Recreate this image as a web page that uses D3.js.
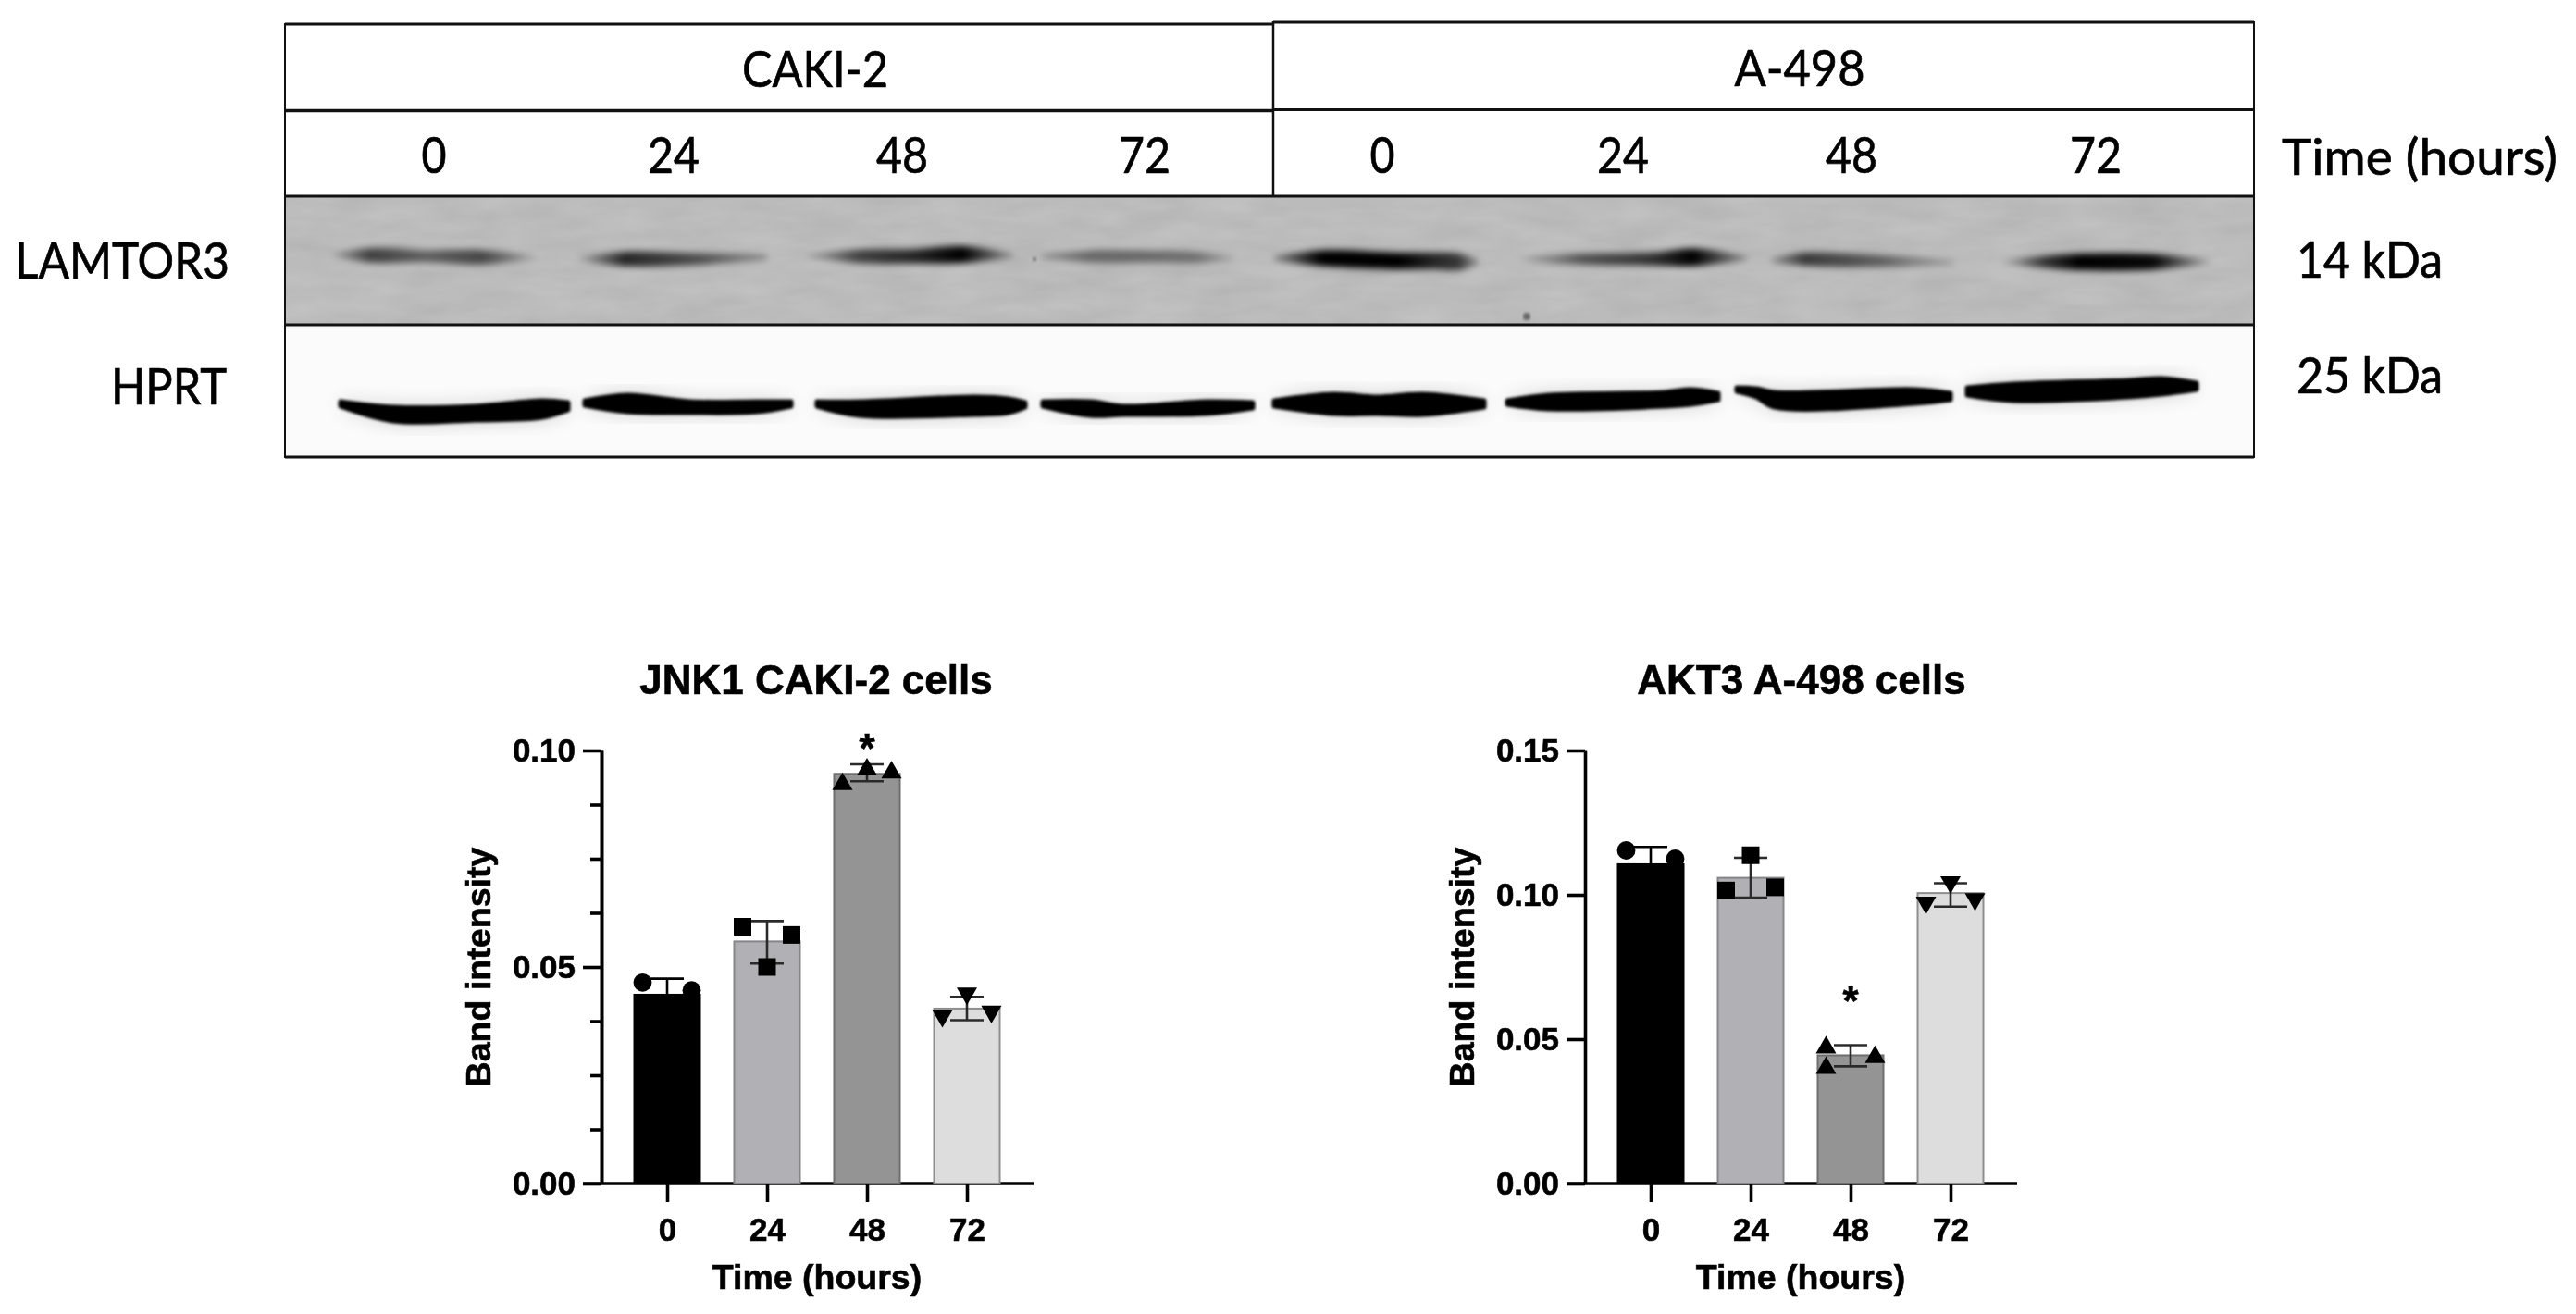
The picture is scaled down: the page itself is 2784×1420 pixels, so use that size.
<!DOCTYPE html>
<html>
<head>
<meta charset="utf-8">
<script src="https://cdnjs.cloudflare.com/ajax/libs/d3/7.8.5/d3.min.js"></script>
<style>
  html, body { margin: 0; background: #fff; }
  svg { display: block; }
  .blot-text { font-family: Lato, "Open Sans", sans-serif; fill: #000; stroke: #000; stroke-width: 0.7px; }
  .chart text { font-family: "Liberation Sans", Arial, sans-serif; font-weight: bold; fill: #000; stroke: #000; stroke-width: 0.6px; }
</style>
</head>
<body>
<svg width="2784" height="1420"></svg>
<script>
// bar charts
var timeLabels = ["0", "24", "48", "72"];

var jnkMeans = [0.0436, 0.0559, 0.0946, 0.0404];
var jnkUpper = [0.0473, 0.0606, 0.0968, 0.0431];
var jnkLower = [0.0400, 0.0508, 0.0929, 0.0377];
var jnkPoints = [[0.0464, 0.0446, 0.0400], [0.0593, 0.0574, 0.0500], [0.0922, 0.0956, 0.0949], [0.0387, 0.0439, 0.0397]];
var jnkSides = [[-1, 1, 0], [-1, 1, 0], [-1, 0, 1], [-1, 0, 1]];
var jnkStar = 0.1021;

var aktMeans = [0.1106, 0.1059, 0.0444, 0.1006];
var aktUpper = [0.1166, 0.1128, 0.0479, 0.1040];
var aktLower = [0.1046, 0.0990, 0.0406, 0.0959];
var aktPoints = [[0.1154, 0.1125, 0.1040], [0.1015, 0.1137, 0.1026], [0.0471, 0.0400, 0.0438], [0.0973, 0.1044, 0.0985]];
var aktSides = [[-1, 1, 0], [-1, 0, 1], [-1, -1, 1], [-1, 0, 1]];
var aktStar = 0.0657;

var barFills = ["#000000", "#b1b0b4", "#949494", "#dddddd"];
var barEdges = ["#000000", "#85858a", "#6e6e6e", "#8e8e8e"];

// blot table text
var cellLines = ["CAKI-2", "A-498"];
var laneLabels = ["0", "24", "48", "72", "0", "24", "48", "72"];
var proteinLabels = ["LAMTOR3", "HPRT"];
var sizeLabels = ["14 kDa", "25 kDa"];

// LAMTOR3 bands: [lane position, row position, thickness, darkness]
var lamtorBands = [
  [[51, 64, 3, 0.1], [92, 64, 13, 0.65], [152, 65, 11, 0.5], [213, 66, 13, 0.62], [271, 66, 3, 0.1]],
  [[317, 68, 3, 0.1], [367, 68, 13, 0.8], [440, 68, 11, 0.6], [521, 66, 5, 0.25]],
  [[564, 65, 3, 0.1], [620, 65, 12, 0.65], [680, 65, 13, 0.8], [732, 63, 15, 1], [787, 64, 4, 0.2]],
  [[818, 65, 4, 0.2], [870, 65, 11, 0.45], [930, 65, 11, 0.45], [985, 66, 10, 0.4], [1025, 67, 3, 0.1]],
  [[1069, 67, 4, 0.3], [1120, 67, 14, 1], [1205, 70, 15, 1], [1241, 70, 15, 0.8], [1269, 71, 15, 0.7], [1290, 71, 4, 0.2]],
  [[1337, 68, 3, 0.1], [1400, 68, 10, 0.55], [1480, 68, 12, 0.75], [1522, 66, 16, 1], [1580, 67, 4, 0.2]],
  [[1607, 69, 4, 0.2], [1642, 68, 12, 0.7], [1720, 70, 11, 0.5], [1803, 71, 4, 0.15]],
  [[1857, 71, 3, 0.1], [1900, 71, 11, 0.7], [1939, 71, 15, 1], [2020, 71, 14, 0.95], [2082, 71, 3, 0.1]]
];

// HPRT bands: [lane position, top edge, bottom edge]
var hprtBands = [
  [[60, 81, 86], [117, 87, 102], [206, 86, 101], [278, 80, 98], [306, 82, 90]],
  [[324, 80, 85], [370, 74, 92], [438, 81, 93], [510, 81, 92], [547, 81, 86]],
  [[575, 81, 86], [621, 81, 96], [746, 76, 95], [782, 78, 93], [800, 82, 87]],
  [[819, 81, 86], [871, 81, 96], [907, 86, 95], [996, 81, 94], [1046, 82, 88]],
  [[1069, 80, 86], [1133, 73, 94], [1180, 76, 94], [1230, 73, 95], [1296, 80, 87]],
  [[1321, 80, 84], [1366, 74, 89], [1491, 71, 86], [1519, 68, 84], [1549, 72, 79]],
  [[1569, 66, 70], [1590, 67, 76], [1610, 71, 87], [1761, 68, 83], [1800, 72, 79]],
  [[1818, 66, 74], [1868, 62, 80], [1993, 58, 76], [2028, 56, 73], [2066, 61, 68]]
];

// small dust specks on the LAMTOR3 row
var specks = [[810, 68, 2], [1342, 130, 4]];

var svg = d3.select("svg");
var defs = svg.append("defs");

function blur(id, s) {
  defs.append("filter").attr("id", id)
    .attr("x", "-10%").attr("y", "-60%").attr("width", "120%").attr("height", "220%")
    .append("feGaussianBlur").attr("stdDeviation", s);
}
blur("soft", 0.7);
blur("band", 3.6);
blur("edge", 1.5);
blur("halo", 11);

// grey film grain for the top blot
var grain = defs.append("filter").attr("id", "grain")
  .attr("x", 0).attr("y", 0).attr("width", 1).attr("height", 1)
  .attr("color-interpolation-filters", "sRGB");
grain.append("feTurbulence").attr("type", "fractalNoise")
  .attr("baseFrequency", "0.014 0.05").attr("numOctaves", 3).attr("seed", 4);
grain.append("feColorMatrix").attr("type", "matrix")
  .attr("values", "0.07 0 0 0 0.70  0.07 0 0 0 0.70  0.07 0 0 0 0.70  0 0 0 0 1");

var blotLeft = 308, blotRight = 2436, midX = 1376;
var laneX = d3.scaleLinear().domain([0, 2128]).range([blotLeft, blotRight]);
var lamtorY = d3.scaleLinear().domain([0, 138]).range([212, 350]);
var hprtY = d3.scaleLinear().domain([0, 141]).range([353, 494]);

var blots = svg.append("g");

blots.append("rect").attr("x", blotLeft).attr("y", 212)
  .attr("width", blotRight - blotLeft).attr("height", 138)
  .attr("filter", "url(#grain)");
blots.append("rect").attr("x", blotLeft).attr("y", 353)
  .attr("width", blotRight - blotLeft).attr("height", 141)
  .attr("fill", "#fbfbfb");

// lamtor bands, darkness runs along the band as a gradient
var lamtorArea = d3.area().curve(d3.curveCatmullRom)
  .x(function(d) { return laneX(d[0]); })
  .y0(function(d) { return lamtorY(d[1] - d[2] * 0.6); })
  .y1(function(d) { return lamtorY(d[1] + d[2] * 0.6); });

lamtorBands.forEach(function(band, i) {
  var x0 = band[0][0], x1 = band[band.length - 1][0];
  var grad = defs.append("linearGradient").attr("id", "lam" + i)
    .attr("gradientUnits", "userSpaceOnUse")
    .attr("x1", laneX(x0)).attr("x2", laneX(x1)).attr("y1", 0).attr("y2", 0);
  band.forEach(function(p) {
    grad.append("stop").attr("offset", (p[0] - x0) / (x1 - x0))
      .attr("stop-color", "#000").attr("stop-opacity", p[3]);
  });
  blots.append("path").datum(band).attr("d", lamtorArea)
    .attr("fill", "url(#lam" + i + ")").attr("filter", "url(#band)");
});

blots.selectAll(".speck").data(specks).enter().append("circle")
  .attr("class", "speck")
  .attr("cx", function(d) { return laneX(d[0]); })
  .attr("cy", function(d) { return lamtorY(d[1]); })
  .attr("r", function(d) { return d[2]; })
  .attr("fill", "#666").attr("filter", "url(#edge)");

// hprt bands
var hprtArea = d3.area().curve(d3.curveCatmullRom)
  .x(function(d) { return laneX(d[0]); })
  .y0(function(d) { return hprtY(d[1]); })
  .y1(function(d) { return hprtY(d[2]); });

blots.selectAll(".halo").data(hprtBands).enter().append("path")
  .attr("class", "halo").attr("d", hprtArea)
  .attr("fill", "#000").attr("opacity", 0.22).attr("filter", "url(#halo)");
blots.selectAll(".core").data(hprtBands).enter().append("path")
  .attr("class", "core").attr("d", hprtArea)
  .attr("fill", "#000").attr("stroke", "#000").attr("stroke-width", 5)
  .attr("stroke-linejoin", "round").attr("filter", "url(#edge)");

// table frame
function rule(x1, y1, x2, y2, w) {
  blots.append("line").attr("x1", x1).attr("y1", y1).attr("x2", x2).attr("y2", y2)
    .attr("stroke", "#111").attr("stroke-width", w);
}
rule(blotLeft, 26, midX, 26, 3);
rule(midX, 24, blotRight, 24, 3);
rule(blotLeft, 119.5, midX, 119.5, 3.5);
rule(midX, 118.5, blotRight, 118.5, 3);
rule(blotLeft, 212, blotRight, 212, 3);
rule(blotLeft, 351, blotRight, 351, 3);
rule(blotLeft, 494, blotRight, 494, 3);
rule(blotLeft, 25, blotLeft, 495, 2);
rule(blotRight, 23, blotRight, 495, 2);
rule(midX, 23, midX, 212, 2.5);

var blotText = svg.append("g").attr("filter", "url(#soft)");
function label(s, x, y, w, anchor) {
  blotText.append("text").attr("class", "blot-text")
    .attr("x", x).attr("y", y)
    .attr("font-size", 54)
    .attr("text-anchor", anchor || "middle")
    .attr("textLength", w).attr("lengthAdjust", "spacingAndGlyphs")
    .text(s);
}
label(cellLines[0], 881, 94, 158);
label(cellLines[1], 1945, 93, 141);
var laneTextX = [469, 728, 975, 1237, 1494, 1754, 2001, 2265];
laneLabels.forEach(function(s, i) {
  label(s, laneTextX[i], 187, s.length > 1 ? 56 : 27);
});
label("Time (hours)", 2466, 189, 298, "start");
label(proteinLabels[0], 16, 301, 232, "start");
label(proteinLabels[1], 120, 437, 125, "start");
label(sizeLabels[0], 2482, 300, 158, "start");
label(sizeLabels[1], 2482, 425, 158, "start");

// bar charts
var symbols = [d3.symbolCircle, d3.symbolSquare, d3.symbolTriangle, d3.symbolTriangle];
var symbolSizes = [310, 361, 210, 210];

function barChart(o) {
  var g = svg.append("g").attr("class", "chart").attr("filter", "url(#soft)");
  var top = 811, base = 1279;
  var x = d3.scalePoint().domain(timeLabels).range([o.left + 71, o.left + 395]);
  var y = d3.scaleLinear().domain([0, o.yMax]).range([base, top]);
  var barW = 71;

  if (o.minor) {
    g.append("g").attr("transform", "translate(" + o.left + ",0)")
      .call(d3.axisLeft(y).tickValues(o.minor).tickSize(12).tickSizeOuter(0).tickFormat(""))
      .call(styleAxis);
  }
  g.append("g").attr("transform", "translate(" + o.left + ",0)")
    .call(d3.axisLeft(y).tickValues(o.major).tickSize(20).tickSizeOuter(0).tickPadding(8).tickFormat(d3.format(".2f")))
    .call(styleAxis);

  var xAxis = g.append("g").attr("transform", "translate(0," + base + ")")
    .call(d3.axisBottom(x).tickSize(20).tickSizeOuter(0).tickPadding(17))
    .call(styleAxis);
  xAxis.select(".domain").remove();
  g.append("line").attr("x1", o.left - 20).attr("x2", o.left + 467)
    .attr("y1", base).attr("y2", base)
    .attr("stroke", "#000").attr("stroke-width", 3.6);

  g.selectAll(".bar").data(o.means).enter().append("rect")
    .attr("class", "bar")
    .attr("x", function(d, i) { return x(timeLabels[i]) - barW / 2; })
    .attr("y", function(d) { return y(d); })
    .attr("width", barW)
    .attr("height", function(d) { return base - y(d); })
    .attr("fill", function(d, i) { return barFills[i]; })
    .attr("stroke", function(d, i) { return barEdges[i]; })
    .attr("stroke-width", 2);

  // mean +- sd whiskers
  timeLabels.forEach(function(t, i) {
    var cx = x(t), c = i === 0 ? "#000" : "#2b2b2b";
    g.append("line").attr("x1", cx).attr("x2", cx)
      .attr("y1", y(o.upper[i])).attr("y2", y(o.lower[i]))
      .attr("stroke", c).attr("stroke-width", 2.6);
    [o.upper[i], o.lower[i]].forEach(function(v) {
      g.append("line").attr("x1", cx - 18).attr("x2", cx + 18)
        .attr("y1", y(v)).attr("y2", y(v))
        .attr("stroke", c).attr("stroke-width", 2.6);
    });
    o.points[i].forEach(function(v, k) {
      var down = i === 3 ? " rotate(180)" : "";
      g.append("path")
        .attr("d", d3.symbol().type(symbols[i]).size(symbolSizes[i])())
        .attr("transform", "translate(" + (cx + o.sides[i][k] * 26.5) + "," + y(v) + ")" + down)
        .attr("fill", "#000");
    });
  });

  g.append("text").attr("x", x(timeLabels[2])).attr("y", y(o.star) + 23)
    .attr("text-anchor", "middle").attr("font-size", 44).text("*");

  g.append("text").attr("x", o.titleX).attr("y", 750)
    .attr("text-anchor", "middle").attr("font-size", 44).text(o.title);
  g.append("text").attr("x", o.left + 233).attr("y", 1393)
    .attr("text-anchor", "middle").attr("font-size", 37.5).text("Time (hours)");
  g.append("text").attr("transform", "translate(" + (o.left - 120) + ",1045) rotate(-90)")
    .attr("text-anchor", "middle").attr("font-size", 37.6).text("Band intensity");
}

function styleAxis(sel) {
  sel.selectAll(".domain").attr("stroke", "#000").attr("stroke-width", 3.6);
  sel.selectAll(".tick line").attr("stroke", "#000").attr("stroke-width", 3.6);
  sel.selectAll(".tick text").attr("font-size", 35).attr("fill", "#000");
}

barChart({
  title: "JNK1 CAKI-2 cells", titleX: 882, left: 650, yMax: 0.1,
  major: [0, 0.05, 0.1],
  minor: [0.0125, 0.025, 0.0375, 0.0625, 0.075, 0.0875],
  means: jnkMeans, upper: jnkUpper, lower: jnkLower,
  points: jnkPoints, sides: jnkSides, star: jnkStar
});

barChart({
  title: "AKT3 A-498 cells", titleX: 1947, left: 1713, yMax: 0.15,
  major: [0, 0.05, 0.1, 0.15],
  means: aktMeans, upper: aktUpper, lower: aktLower,
  points: aktPoints, sides: aktSides, star: aktStar
});
</script>
</body>
</html>
